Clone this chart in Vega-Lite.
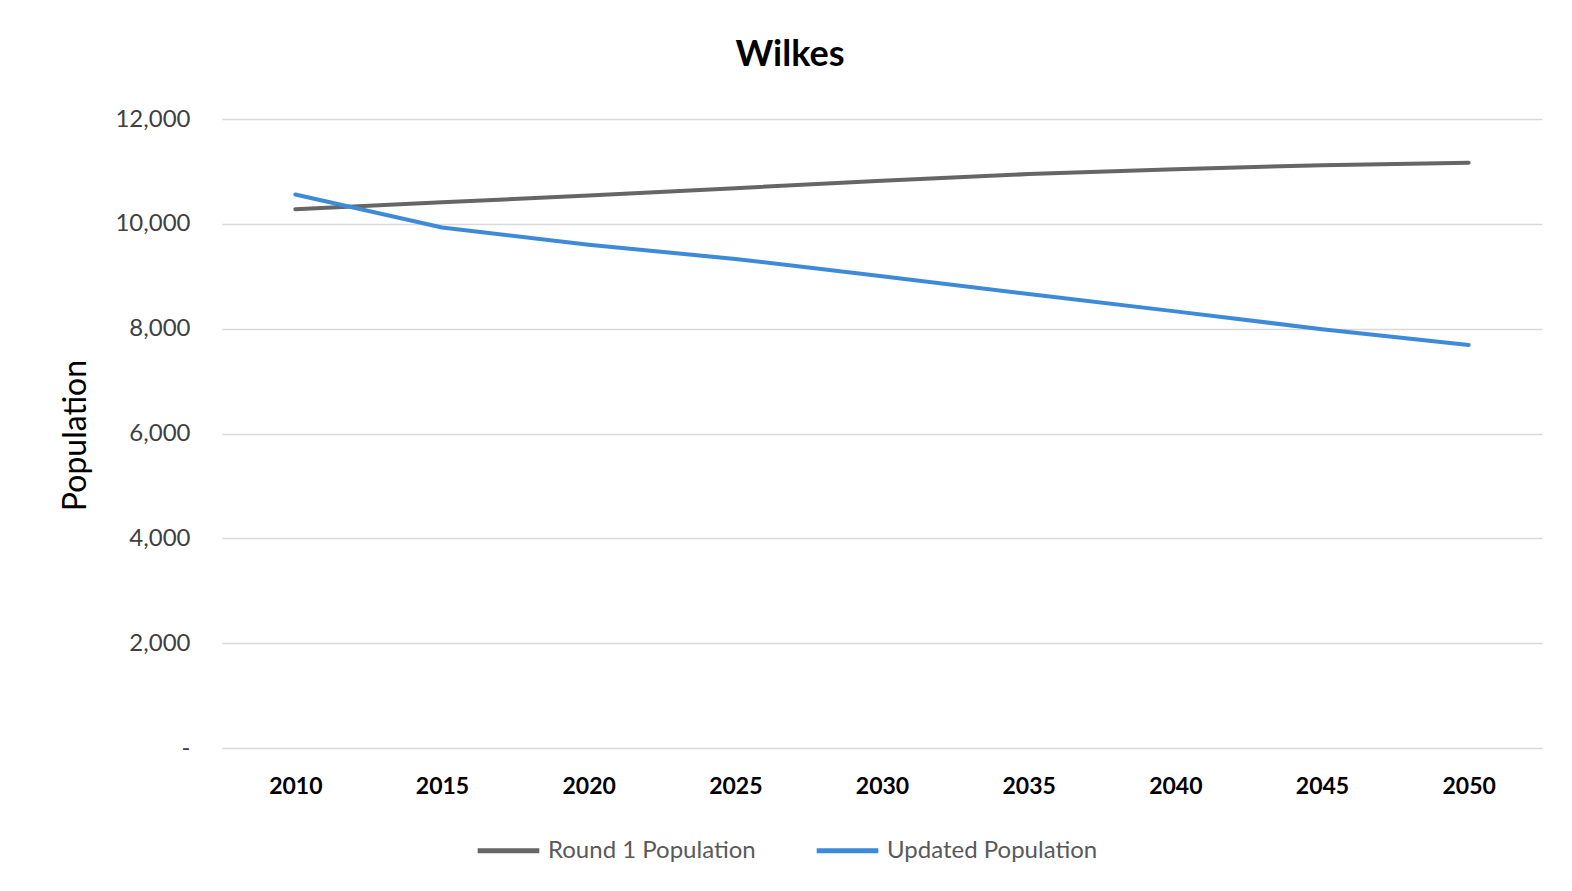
{
  "$schema": "https://vega.github.io/schema/vega-lite/v6.json",
  "autosize": {"type": "none"},
  "width": 1320,
  "height": 629,
  "padding": {"left": 222, "top": 119, "right": 30, "bottom": 143},
  "background": "white",
  "title": {
    "text": "Wilkes",
    "font": "Lato",
    "fontSize": 36,
    "fontWeight": "bold",
    "color": "#000000",
    "anchor": "middle",
    "dx": -92,
    "offset": 33
  },
  "data": {
    "values": [
      {"year": "2010", "series": "Round 1 Population", "population": 10280},
      {"year": "2015", "series": "Round 1 Population", "population": 10410},
      {"year": "2020", "series": "Round 1 Population", "population": 10540},
      {"year": "2025", "series": "Round 1 Population", "population": 10680},
      {"year": "2030", "series": "Round 1 Population", "population": 10820},
      {"year": "2035", "series": "Round 1 Population", "population": 10950},
      {"year": "2040", "series": "Round 1 Population", "population": 11040},
      {"year": "2045", "series": "Round 1 Population", "population": 11120},
      {"year": "2050", "series": "Round 1 Population", "population": 11165},
      {"year": "2010", "series": "Updated Population", "population": 10560},
      {"year": "2015", "series": "Updated Population", "population": 9930},
      {"year": "2020", "series": "Updated Population", "population": 9600},
      {"year": "2025", "series": "Updated Population", "population": 9330},
      {"year": "2030", "series": "Updated Population", "population": 9000},
      {"year": "2035", "series": "Updated Population", "population": 8660},
      {"year": "2040", "series": "Updated Population", "population": 8330},
      {"year": "2045", "series": "Updated Population", "population": 7990},
      {"year": "2050", "series": "Updated Population", "population": 7690}
    ]
  },
  "mark": {"type": "line", "strokeWidth": 4, "strokeCap": "round"},
  "encoding": {
    "x": {
      "field": "year",
      "type": "ordinal",
      "scale": {"type": "point", "padding": 0.5},
      "axis": {
        "title": null,
        "labelAngle": 0,
        "labelFont": "Lato",
        "labelFontSize": 23,
        "labelFontWeight": "bold",
        "labelColor": "#000000",
        "labelPadding": 27,
        "ticks": false,
        "domain": false,
        "grid": false
      }
    },
    "y": {
      "field": "population",
      "type": "quantitative",
      "scale": {"domain": [0, 12000], "nice": false},
      "axis": {
        "title": "Population",
        "titleFont": "Lato",
        "titleFontSize": 32,
        "titleFontWeight": "normal",
        "titleColor": "#000000",
        "titleX": -147,
        "titleY": 316,
        "titleAngle": -90,
        "titleAlign": "center",
        "titleBaseline": "middle",
        "values": [0, 2000, 4000, 6000, 8000, 10000, 12000],
        "labelExpr": "datum.value == 0 ? '-' : format(datum.value, ',')",
        "labelFont": "Lato",
        "labelFontSize": 24,
        "labelColor": "#404040",
        "labelPadding": 32,
        "ticks": false,
        "domain": false,
        "grid": true,
        "gridColor": "#d9d9d9",
        "gridWidth": 1.5
      }
    },
    "color": {
      "field": "series",
      "type": "nominal",
      "scale": {
        "domain": ["Round 1 Population", "Updated Population"],
        "range": ["#666666", "#3d8ad8"]
      },
      "legend": {
        "title": null,
        "orient": "none",
        "legendX": 253,
        "legendY": 698,
        "direction": "horizontal",
        "symbolType": "stroke",
        "symbolSize": 3800,
        "symbolStrokeWidth": 5,
        "labelFont": "Lato",
        "labelFontSize": 24,
        "labelColor": "#595959",
        "labelLimit": 0,
        "labelOffset": 6,
        "columnPadding": 50
      }
    }
  },
  "config": {"view": {"stroke": null}}
}
